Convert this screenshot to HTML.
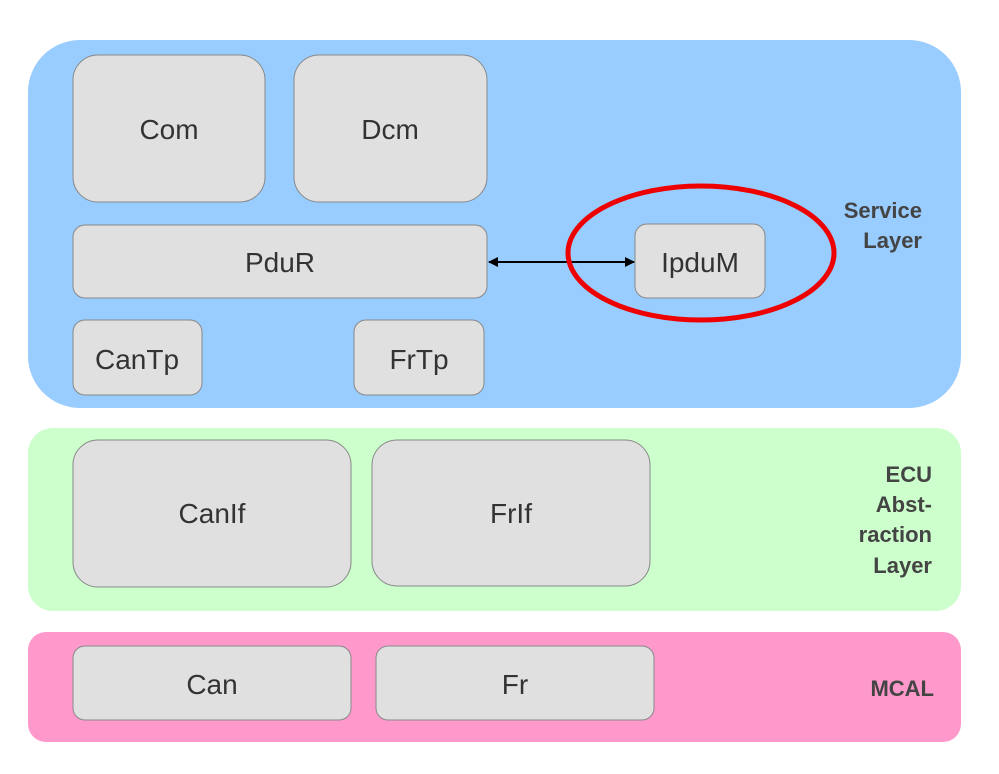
<!DOCTYPE html>
<html><head><style>body{margin:0;background:#fff}</style></head><body>
<svg width="999" height="769" xmlns="http://www.w3.org/2000/svg" font-family="Liberation Sans, sans-serif">
<defs><marker id="a" markerWidth="10" markerHeight="10" refX="9" refY="5" orient="auto-start-reverse" markerUnits="userSpaceOnUse"><path d="M0,0 L10,5 L0,10 z" fill="#000"/></marker></defs>
<rect x="28" y="40" width="933" height="368" rx="52" fill="#99ccff"/>
<rect x="28" y="428" width="933" height="183" rx="25" fill="#ccffcc"/>
<rect x="28" y="632" width="933" height="110" rx="18" fill="#ff99cc"/>
<g fill="#e0e0e0" stroke="#888" stroke-width="1">
<rect x="73" y="55" width="192" height="147" rx="25"/>
<rect x="294" y="55" width="193" height="147" rx="25"/>
<rect x="73" y="225" width="414" height="73" rx="12"/>
<rect x="73" y="320" width="129" height="75" rx="12"/>
<rect x="354" y="320" width="130" height="75" rx="12"/>
<rect x="635" y="224" width="130" height="74" rx="12"/>
<rect x="73" y="440" width="278" height="147" rx="25"/>
<rect x="372" y="440" width="278" height="146" rx="25"/>
<rect x="73" y="646" width="278" height="74" rx="12"/>
<rect x="376" y="646" width="278" height="74" rx="12"/>
</g>
<line x1="489" y1="262" x2="634" y2="262" stroke="#000" stroke-width="2" marker-start="url(#a)" marker-end="url(#a)"/>
<ellipse cx="701" cy="253" rx="133" ry="67" fill="none" stroke="#ee0000" stroke-width="5"/>
<g fill="#333" font-size="28" text-anchor="middle">
<text x="169" y="139">Com</text>
<text x="390" y="139">Dcm</text>
<text x="280" y="272">PduR</text>
<text x="137" y="369">CanTp</text>
<text x="419" y="369">FrTp</text>
<text x="700" y="272">IpduM</text>
<text x="212" y="523">CanIf</text>
<text x="511" y="523">FrIf</text>
<text x="212" y="694">Can</text>
<text x="515" y="694">Fr</text>
</g>
<g fill="#444" font-size="22" font-weight="bold" text-anchor="end">
<text x="922" y="218">Service</text>
<text x="922" y="248">Layer</text>
<text x="932" y="482">ECU</text>
<text x="932" y="512">Abst-</text>
<text x="932" y="542">raction</text>
<text x="932" y="573">Layer</text>
<text x="934" y="696">MCAL</text>
</g>
</svg>
</body></html>
